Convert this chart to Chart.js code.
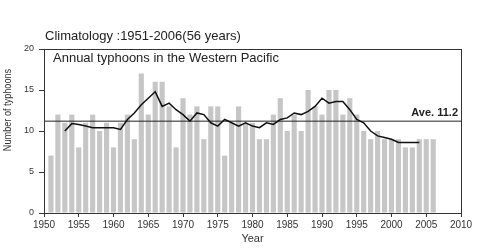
<!DOCTYPE html>
<html>
<head>
<meta charset="utf-8">
<script src="https://cdn.jsdelivr.net/npm/chart.js@4.4.1/dist/chart.umd.min.js"></script>
<style>
    html, body { margin: 0; padding: 0; background: #fff; }
    #wrap { width: 480px; height: 248px; position: relative; }
</style>
</head>
<body>
<div id="wrap"><canvas id="tufoes"></canvas></div>
<script>
// anos 1951-2006
const anos = [];
for (let a = 1951; a <= 2006; a++) anos.push(a);

const numTufoes = [
    7, 12, 11, 12, 8, 11, 12, 10, 11, 8,
    11, 12, 9, 17, 12, 16, 16, 13, 8, 14,
    12, 13, 9, 13, 13, 7, 11, 13, 11, 11,
    9, 9, 12, 14, 10, 12, 10, 15, 13, 12,
    15, 15, 12, 14, 12, 10, 9, 10, 9, 9,
    9, 8, 8, 9, 9, 9
];

// media movel de 5 anos, 1953-2004
const anosMedia = [];
for (let a = 1953; a <= 2004; a++) anosMedia.push(a);

const mediaMovel = [
    10.0, 10.9, 10.8, 10.6, 10.4, 10.4, 10.4, 10.4, 10.2, 11.4,
    12.2, 13.2, 14.0, 14.8, 13.0, 13.4, 12.6, 12.0, 11.2, 12.2,
    12.0, 11.0, 10.6, 11.4, 11.0, 10.6, 11.0, 10.6, 10.4, 11.0,
    10.8, 11.4, 11.6, 12.2, 12.0, 12.4, 13.0, 14.0, 13.4, 13.6,
    13.6, 12.6, 11.4, 11.0, 10.0, 9.4, 9.2, 9.0, 8.6, 8.6,
    8.6, 8.6
];

const mediaGeral = 11.2;
const ticksAno = [1950, 1955, 1960, 1965, 1970, 1975, 1980, 1985, 1990, 1995, 2000, 2005, 2010];
const ticksY = [0, 5, 10, 15, 20];

const fonte = '"Liberation Sans", Arial, sans-serif';

const textos = {
    id: 'textos',
    afterDraw(chart) {
        const ctx = chart.ctx;
        const area = chart.chartArea;
        const y = chart.scales.y;
        ctx.save();
        // moldura
        ctx.strokeStyle = '#333';
        ctx.lineWidth = 1;
        ctx.strokeRect(Math.round(area.left) + 0.5, Math.round(area.top) + 0.5,
            Math.round(area.right - area.left), Math.round(area.bottom - area.top));

        ctx.fillStyle = '#222';
        ctx.textBaseline = 'middle';
        ctx.textAlign = 'left';
        ctx.font = '13px ' + fonte;
        ctx.fillText('Climatology :1951-2006(56 years)', area.left + 1, 36);
        ctx.fillText('Annual typhoons in the Western Pacific', area.left + 9, 58);

        ctx.textAlign = 'right';
        ctx.textBaseline = 'alphabetic';
        ctx.font = 'bold 11px ' + fonte;
        ctx.fillText('Ave. ' + mediaGeral.toFixed(1), area.right - 3, y.getPixelForValue(mediaGeral) - 5);

        // titulo do eixo y (estreito, como no original)
        ctx.fillStyle = '#333';
        ctx.translate(8, 110);
        ctx.rotate(-Math.PI / 2);
        ctx.scale(0.87, 1);
        ctx.textAlign = 'center';
        ctx.textBaseline = 'middle';
        ctx.font = '10.5px ' + fonte;
        ctx.fillText('Number of typhoons', 0, 0);
        ctx.restore();
    }
};

new Chart(document.getElementById('tufoes'), {
    type: 'bar',
    data: {
        datasets: [{
            type: 'line',
            data: anosMedia.map((a, i) => ({ x: a, y: mediaMovel[i] })),
            borderColor: '#111',
            borderWidth: 1.5,
            pointRadius: 0,
            tension: 0,
            order: 1
        }, {
            type: 'line',
            data: [{ x: 1950, y: mediaGeral }, { x: 2010, y: mediaGeral }],
            borderColor: '#222',
            borderWidth: 1,
            pointRadius: 0,
            order: 2
        }, {
            data: anos.map((a, i) => ({ x: a, y: numTufoes[i] })),
            backgroundColor: '#c6c6c6',
            barPercentage: 0.74,
            categoryPercentage: 1,
            order: 3
        }]
    },
    options: {
        responsive: true,
        maintainAspectRatio: false,
        animation: false,
        layout: {
            padding: { top: 49, right: 19, left: 0, bottom: 0 }
        },
        plugins: {
            legend: { display: false },
            tooltip: { enabled: false }
        },
        scales: {
            x: {
                type: 'linear',
                min: 1950,
                max: 2010,
                offset: false,
                afterBuildTicks: scale => { scale.ticks = ticksAno.map(v => ({ value: v })); },
                afterFit: scale => { scale.height = 35; },
                grid: { display: true, drawOnChartArea: false, offset: false, color: '#333', tickLength: 4 },
                border: { color: '#333' },
                ticks: {
                    color: '#333',
                    padding: 2,
                    maxRotation: 0,
                    font: { family: fonte, size: 10 },
                    callback: v => String(v)
                },
                title: {
                    display: true,
                    text: 'Year',
                    color: '#333',
                    padding: { top: 0, bottom: 2 },
                    font: { family: fonte, size: 11 }
                }
            },
            y: {
                min: 0,
                max: 20,
                afterBuildTicks: scale => { scale.ticks = ticksY.map(v => ({ value: v })); },
                afterFit: scale => { scale.width = 44; },
                grid: { display: true, drawOnChartArea: false, color: '#333', tickLength: 5 },
                border: { color: '#333' },
                ticks: {
                    color: '#333',
                    padding: 5,
                    font: { family: fonte, size: 9 }
                }
            }
        }
    },
    plugins: [textos]
});
</script>
</body>
</html>
